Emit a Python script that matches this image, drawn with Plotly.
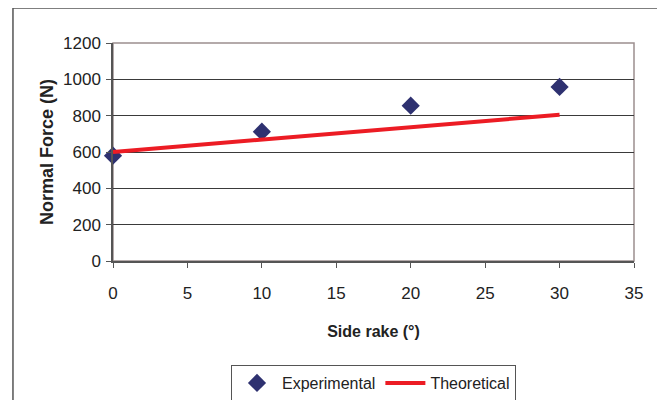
import plotly.graph_objects as go

side_rake = [0, 10, 20, 30]
experimental = [580, 712, 855, 958]
theoretical = [600, 668, 736, 805]
x_ticks = [0, 5, 10, 15, 20, 25, 30, 35]
y_ticks = [0, 200, 400, 600, 800, 1000, 1200]

FONT = "Liberation Sans, Arial, sans-serif"

fig = go.Figure()
fig.add_trace(go.Scatter(
    x=side_rake, y=experimental, mode="markers", name="Experimental",
    marker=dict(symbol="diamond", size=14, color="#2e3170",
                line=dict(width=0)),
    cliponaxis=False,
))
fig.add_trace(go.Scatter(
    x=side_rake, y=theoretical, mode="lines", name="Theoretical",
    line=dict(color="#ec1c24", width=4),
    cliponaxis=False,
))

fig.update_layout(
    width=657, height=392,
    margin=dict(l=105, r=31, t=35, b=139, autoexpand=False),
    paper_bgcolor="white", plot_bgcolor="white",
    font=dict(family=FONT, size=17, color="#222222"),
    showlegend=True,
    legend=dict(
        orientation="h", x=0.5, xanchor="center", y=-0.477, yanchor="top",
        bordercolor="#555555", borderwidth=1, font=dict(size=16, color="#222"),
        itemwidth=40, tracegroupgap=0,
    ),
    xaxis=dict(
        range=[0, 35], tickvals=x_ticks, ticks="outside", ticklen=5,
        tickcolor="#555555", showgrid=False, zeroline=False,
        showline=True, linecolor="#555555", linewidth=1.5,
        title=dict(text="<b>Side rake (°)</b>", font=dict(size=16), standoff=24),
        tickfont=dict(size=17), ticklabelstandoff=11, automargin=False,
    ),
    yaxis=dict(
        range=[0, 1200], tickvals=y_ticks, ticks="outside", ticklen=5,
        tickcolor="#555555", showgrid=True, gridcolor="#3a3a3a", gridwidth=1,
        zeroline=False, showline=True, linecolor="#555555", linewidth=1.5,
        title=dict(text="<b>Normal Force (N)</b>", font=dict(size=18), standoff=5),
        tickfont=dict(size=17), ticklabelstandoff=2, automargin=False,
    ),
    shapes=[
        dict(type="rect", xref="paper", yref="paper", x0=0, x1=1, y0=0, y1=1,
             line=dict(color="#9c8f8f", width=1.5), layer="below"),
        dict(type="rect", xref="paper", yref="paper", x0=-0.192, x1=1.05,
             y0=-0.70, y1=1.1606, line=dict(color="#555555", width=1.5),
             layer="below"),
    ],
)

fig.write_html("out.html")
